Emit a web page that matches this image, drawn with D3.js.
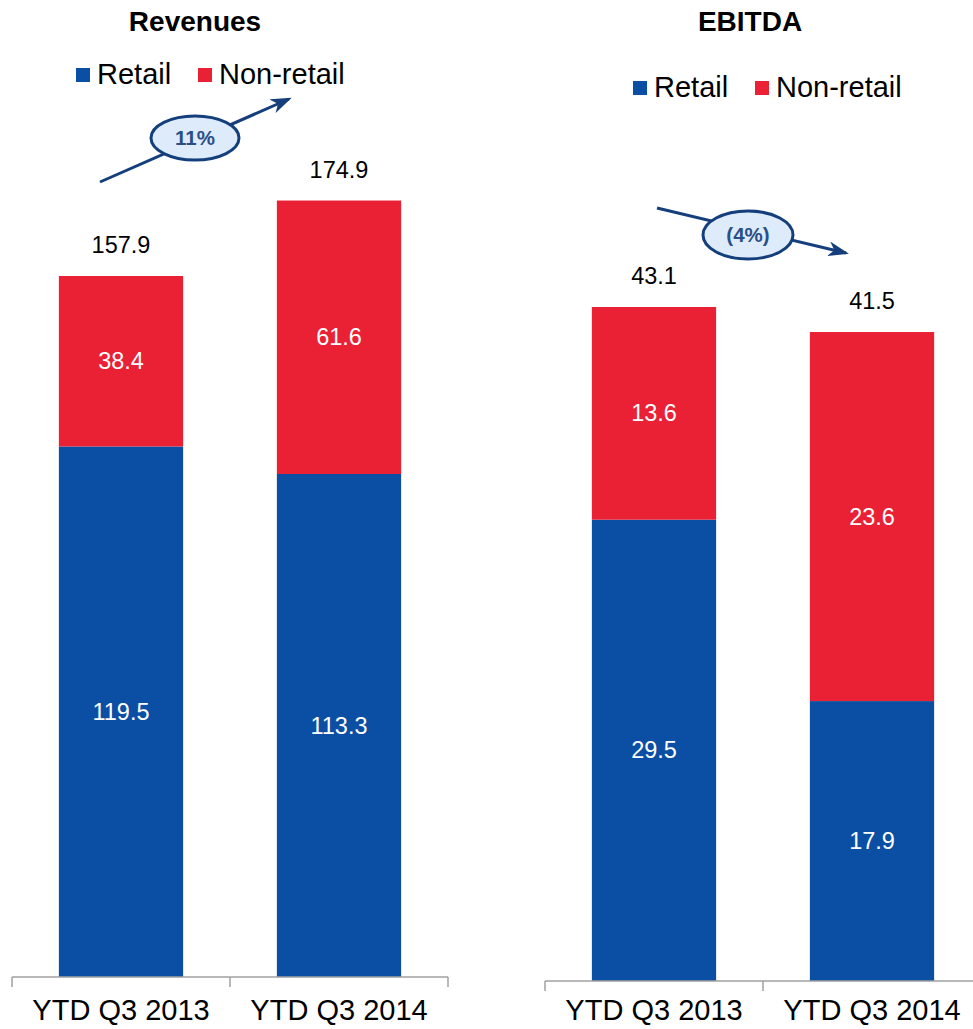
<!DOCTYPE html>
<html>
<head>
<meta charset="utf-8">
<script src="https://cdnjs.cloudflare.com/ajax/libs/d3/7.8.5/d3.min.js"></script>
<style>
  body { margin: 0; background: #fff; }
  svg { display: block; font-family: "Liberation Sans", Arial, sans-serif; }
</style>
</head>
<body>
<div class="chart"></div>
<script>
var periods = ['YTD Q3 2013', 'YTD Q3 2014'];
var series = ['Retail', 'Non-retail'];
var revenueRetail = [119.5, 113.3];
var revenueNonRetail = [38.4, 61.6];
var revenueTotal = [157.9, 174.9];
var ebitdaRetail = [29.5, 17.9];
var ebitdaNonRetail = [13.6, 23.6];
var ebitdaTotal = [43.1, 41.5];
var growthLabels = ['11%', '(4%)'];

var colors = {'Retail': '#0b4fa4', 'Non-retail': '#ea2035'};
var navy = '#143f7c';

var svg = d3.select('.chart')
  .append('svg')
	.attr('width', 973)
	.attr('height', 1029);

var defs = svg.append('defs');
defs.append('marker')
	.attr('id', 'arrow')
	.attr('viewBox', '0 0 14 10')
	.attr('refX', 12)
	.attr('refY', 5)
	.attr('markerWidth', 7)
	.attr('markerHeight', 5)
	.attr('markerUnits', 'strokeWidth')
	.attr('orient', 'auto')
  .append('path')
	.attr('d', 'M0,0 L14,5 L0,10 L4,5 Z')
	.attr('fill', navy);

// one panel per chart
var panels = [
	{title: 'Revenues', retail: revenueRetail, nonRetail: revenueNonRetail, total: revenueTotal,
	 left: 12, base: 977, top: 276, maxVal: 157.9, titleX: 195, legendY: 75, legendX: [76, 198],
	 growth: growthLabels[0], arrow: [[100, 182], [289, 99]], oval: [195, 138, 44, 22]},
	{title: 'EBITDA', retail: ebitdaRetail, nonRetail: ebitdaNonRetail, total: ebitdaTotal,
	 left: 545, base: 981, top: 307, maxVal: 43.1, titleX: 750, legendY: 88, legendX: [633, 755],
	 growth: growthLabels[1], arrow: [[657, 208], [846, 253]], oval: [748, 235, 45, 24]}
];

panels.forEach(function(p) {
	var g = svg.append('g');

	var rows = periods.map(function(d, i) {
		return {period: d, 'Retail': p.retail[i], 'Non-retail': p.nonRetail[i], total: p.total[i]};
	});
	var stacked = d3.stack().keys(series)(rows);

	var x = d3.scaleBand()
		.domain(periods)
		.range([p.left, p.left + 436])
		.paddingInner(0.43)
		.paddingOuter(0.215);

	var y = d3.scaleLinear()
		.domain([0, p.maxVal])
		.range([p.base, p.top]);

	// title
	g.append('text')
		.attr('x', p.titleX)
		.attr('y', 31)
		.attr('text-anchor', 'middle')
		.attr('font-weight', 'bold')
		.attr('font-size', 28)
		.text(p.title);

	// legend
	series.forEach(function(s, i) {
		g.append('rect')
			.attr('x', p.legendX[i])
			.attr('y', p.legendY - 7)
			.attr('width', 14)
			.attr('height', 14)
			.attr('fill', colors[s]);
		g.append('text')
			.attr('x', p.legendX[i] + 21)
			.attr('y', p.legendY + 9)
			.attr('font-size', 29)
			.text(s);
	});

	// bars
	var layer = g.selectAll('g.layer')
		.data(stacked)
		.enter()
		.append('g')
		.attr('class', 'layer')
		.attr('fill', function(d) { return colors[d.key]; });

	layer.selectAll('rect')
		.data(function(d) { return d; })
		.enter()
		.append('rect')
		.attr('x', function(d) { return x(d.data.period); })
		.attr('y', function(d) { return y(d[1]); })
		.attr('width', x.bandwidth())
		.attr('height', function(d) { return y(d[0]) - y(d[1]); });

	layer.selectAll('text')
		.data(function(d) { return d; })
		.enter()
		.append('text')
		.attr('x', function(d) { return x(d.data.period) + x.bandwidth() / 2; })
		.attr('y', function(d) { return (y(d[0]) + y(d[1])) / 2 + 8; })
		.attr('text-anchor', 'middle')
		.attr('fill', '#fff')
		.attr('font-size', 23.5)
		.text(function(d) { return (d[1] - d[0]).toFixed(1); });

	// totals
	g.selectAll('text.total')
		.data(rows)
		.enter()
		.append('text')
		.attr('class', 'total')
		.attr('x', function(d) { return x(d.period) + x.bandwidth() / 2; })
		.attr('y', function(d) { return y(d.total) - 23; })
		.attr('text-anchor', 'middle')
		.attr('font-size', 23.5)
		.text(function(d) { return d.total.toFixed(1); });

	// axis
	var axis = g.append('g')
		.attr('transform', 'translate(0,' + p.base + ')')
		.call(d3.axisBottom(x).tickSize(0).tickPadding(0));
	axis.select('.domain').remove();
	axis.append('line')
		.attr('x1', p.left).attr('x2', p.left + 436)
		.attr('stroke', '#a0a0a0').attr('stroke-width', 1.5);
	[0, 1, 2].forEach(function(k) {
		axis.append('line')
			.attr('x1', p.left + k * 218).attr('x2', p.left + k * 218)
			.attr('y1', 0).attr('y2', 10)
			.attr('stroke', '#a0a0a0').attr('stroke-width', 1.5);
	});
	axis.selectAll('.tick text')
		.attr('font-size', 29)
		.attr('fill', '#000')
		.attr('font-family', '"Liberation Sans", Arial, sans-serif')
		.attr('y', 1020 - p.base)
		.attr('dy', 0);

	// growth arrow
	g.append('line')
		.attr('x1', p.arrow[0][0]).attr('y1', p.arrow[0][1])
		.attr('x2', p.arrow[1][0]).attr('y2', p.arrow[1][1])
		.attr('stroke', navy)
		.attr('stroke-width', 3)
		.attr('marker-end', 'url(#arrow)');
	g.append('ellipse')
		.attr('cx', p.oval[0]).attr('cy', p.oval[1])
		.attr('rx', p.oval[2]).attr('ry', p.oval[3])
		.attr('fill', '#deebfa')
		.attr('stroke', navy)
		.attr('stroke-width', 3);
	g.append('text')
		.attr('x', p.oval[0]).attr('y', p.oval[1] + 7)
		.attr('text-anchor', 'middle')
		.attr('font-weight', 'bold')
		.attr('font-size', 20.5)
		.attr('fill', '#2a4f86')
		.text(p.growth);
});
</script>
</body>
</html>
